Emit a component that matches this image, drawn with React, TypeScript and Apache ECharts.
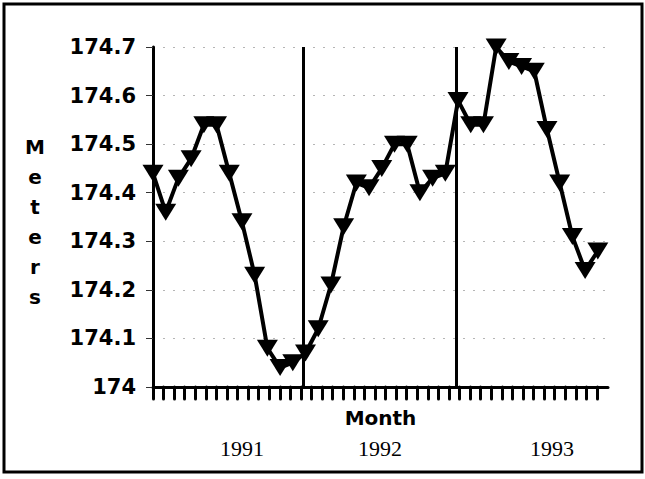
import React, { useEffect, useRef } from "react";
import * as echarts from "echarts";

// Monthly lake level (meters), Jan 1991 .. Dec 1993
const months: string[] = [
  "1991-01","1991-02","1991-03","1991-04","1991-05","1991-06","1991-07","1991-08","1991-09","1991-10","1991-11","1991-12",
  "1992-01","1992-02","1992-03","1992-04","1992-05","1992-06","1992-07","1992-08","1992-09","1992-10","1992-11","1992-12",
  "1993-01","1993-02","1993-03","1993-04","1993-05","1993-06","1993-07","1993-08","1993-09","1993-10","1993-11","1993-12",
];
const levels1991: number[] = [174.44, 174.36, 174.43, 174.47, 174.54, 174.54, 174.44, 174.34, 174.23, 174.08, 174.04, 174.05];
const levels1992: number[] = [174.07, 174.12, 174.21, 174.33, 174.42, 174.41, 174.45, 174.5, 174.5, 174.4, 174.43, 174.44];
const levels1993: number[] = [174.59, 174.54, 174.54, 174.7, 174.67, 174.66, 174.65, 174.53, 174.42, 174.31, 174.24, 174.28];
const years: string[] = ["1991", "1992", "1993"];
const yearBoundaries: number[] = [11.8, 23.85];
const yMin = 174;
const yMax = 174.7;
const yStep = 0.1;

export default function App() {
  const ref = useRef<HTMLDivElement>(null);
  useEffect(() => {
    if (!ref.current) return;
    const chart = echarts.init(ref.current, null, { renderer: "svg" });
    const levels = [...levels1991, ...levels1992, ...levels1993];
    const data = months.map((m, i) => [i, levels[i]]);
    const xMax = 35.8;
    const tickStep = 0.8317;
    const tickValues = Array.from({ length: 43 }, (_, k) => +(k * tickStep).toFixed(4));
    const bold = "DejaVu Sans";
    chart.setOption({
      animation: false,
      backgroundColor: "#ffffff",
      grid: { left: 153, top: 47, width: 455, height: 340, containLabel: false },
      xAxis: {
        type: "value",
        min: 0,
        max: xMax,
        name: "Month",
        nameLocation: "middle",
        nameGap: 21,
        nameTextStyle: { fontFamily: bold, fontWeight: "bold", fontSize: 20, color: "#000", verticalAlign: "top" },
        axisLine: { show: true, lineStyle: { color: "#000", width: 3 } },
        axisTick: {
          show: true,
          customValues: tickValues,
          length: 12,
          inside: false,
          lineStyle: { color: "#000", width: 3, cap: "round" },
        },
        axisLabel: { show: false },
        splitLine: { show: false },
      },
      yAxis: {
        type: "value",
        min: yMin,
        max: yMax,
        interval: yStep,
        axisLine: { show: true, onZero: false, lineStyle: { color: "#000", width: 3 } },
        axisTick: { show: true, length: 7, lineStyle: { color: "#333", width: 1 } },
        axisLabel: {
          margin: 17,
          fontFamily: bold,
          fontWeight: "bold",
          fontSize: 21,
          color: "#000",
          formatter: (v: number) => String(+v.toFixed(1)),
        },
        splitLine: { show: true, lineStyle: { color: "#b5b5b5", width: 1, type: [2, 8] } },
      },
      series: [
        {
          type: "line",
          name: "Level",
          data,
          lineStyle: { color: "#000", width: 4 },
          itemStyle: { color: "#000" },
          symbol: "triangle",
          symbolRotate: 180,
          symbolSize: [21, 17],
          markLine: {
            silent: true,
            symbol: "none",
            label: { show: false },
            lineStyle: { color: "#000", width: 3, type: "solid" },
            data: yearBoundaries.map((b) => ({ xAxis: b })),
          },
          z: 3,
        },
      ],
      graphic: [
        {
          type: "rect",
          shape: { x: 4, y: 4, width: 638, height: 468 },
          style: { fill: "none", stroke: "#000", lineWidth: 3 },
        },
        {
          type: "text",
          x: 35,
          y: 222,
          style: {
            text: "M\ne\nt\ne\nr\ns",
            align: "center",
            verticalAlign: "middle",
            lineHeight: 30,
            fontFamily: bold,
            fontWeight: "bold",
            fontSize: 20,
            fill: "#000",
          },
        },
        ...years.map((y, i) => ({
          type: "text",
          x: [242, 380, 552][i],
          y: 448,
          style: {
            text: y,
            align: "center",
            verticalAlign: "middle",
            fontFamily: "Liberation Serif",
            fontSize: 22,
            fill: "#000",
          },
        })),
      ],
    });
    return () => chart.dispose();
  }, []);
  return (
    <div
      ref={ref}
      style={{ position: "fixed", left: 0, top: 0, width: 645, height: 479 }}
    />
  );
}
